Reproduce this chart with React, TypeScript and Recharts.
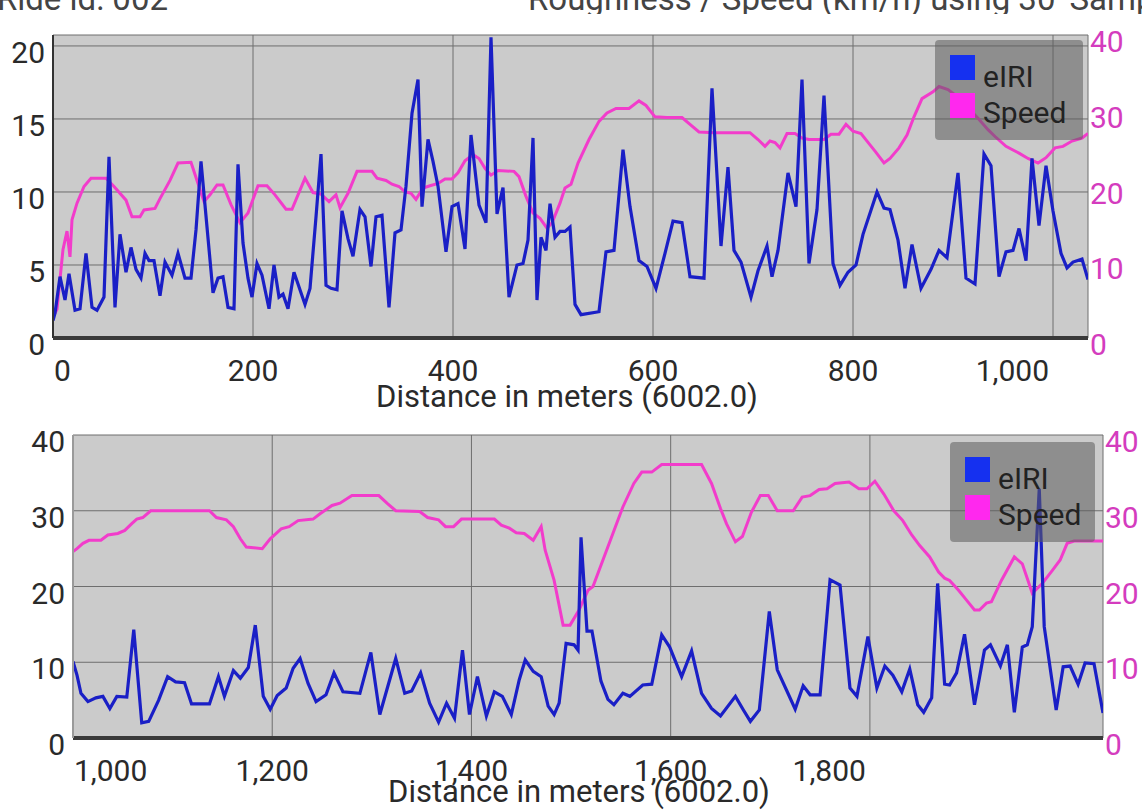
import React from "react";
import { LineChart, Line, XAxis, YAxis, CartesianGrid } from "recharts";

// top panel: 0 - 1035 m
const topIriDist = [
  0, 2, 7, 12, 16, 22, 27, 33, 39, 44,
  51, 56, 62, 67, 73, 78, 83, 88, 92, 96,
  101, 107, 112, 119, 125, 132, 138, 143, 148, 160,
  165, 170, 175, 181, 185, 190, 195, 199, 204, 209,
  216, 221, 226, 230, 235, 241, 248, 252, 257, 263,
  268, 273, 278, 284, 289, 295, 300, 307, 312, 318,
  323, 329, 336, 342, 348, 353, 359, 365, 369, 375,
  380, 385, 393, 399, 405, 412, 418, 426, 433, 438,
  444, 450, 456, 464, 470, 475, 480, 484, 488, 493,
  497, 502, 507, 512, 517, 522, 528, 546, 553, 561,
  570, 577, 586, 594, 603, 612, 620, 629, 637, 651,
  659, 668, 675, 681, 688, 698, 705, 714, 719, 725,
  735, 743, 749, 756, 764, 771, 780, 787, 795, 803,
  810, 824, 831, 837, 845, 852, 859, 868, 878, 886,
  894, 905, 913, 922, 931, 938, 946, 953, 960, 966,
  973, 979, 986, 993, 1000, 1008, 1014, 1020, 1029, 1035,
];
const topIri = [
  1.2, 1.7, 4.2, 2.6, 4.4, 1.9, 2.0, 5.8, 2.1, 1.9,
  2.8, 12.4, 2.1, 7.1, 4.5, 6.2, 4.7, 4.1, 5.8, 5.3,
  5.3, 2.9, 5.2, 4.3, 5.8, 4.1, 4.1, 7.4, 12.1, 3.1,
  4.1, 4.2, 2.1, 2.0, 11.9, 6.5, 4.1, 2.8, 5.1, 4.3,
  2.0, 5.0, 2.8, 3.0, 2.0, 4.5, 3.1, 2.3, 3.4, 8.3,
  12.6, 3.6, 3.4, 3.3, 8.7, 6.8, 5.6, 8.8, 8.3, 4.9,
  8.3, 8.4, 2.1, 7.2, 7.4, 10.4, 15.4, 17.7, 9.0, 13.6,
  12.1, 10.4, 5.9, 9.0, 9.2, 6.1, 13.9, 9.1, 7.9, 20.6,
  8.5, 10.3, 2.8, 5.0, 5.1, 6.7, 13.7, 2.6, 6.9, 6.0,
  9.2, 6.9, 7.3, 7.3, 7.6, 2.3, 1.6, 1.8, 5.9, 6.0,
  12.9, 9.0, 5.3, 4.9, 3.4, 5.8, 8.0, 7.9, 4.2, 4.1,
  17.1, 6.3, 11.7, 6.0, 5.2, 2.8, 4.6, 6.3, 4.2, 6.0,
  11.3, 9.0, 17.7, 5.1, 8.8, 16.6, 5.1, 3.6, 4.5, 5.0,
  7.1, 10.0, 8.9, 8.8, 6.7, 3.4, 6.4, 3.4, 4.7, 6.0,
  5.5, 11.3, 4.1, 3.7, 12.6, 11.8, 4.2, 5.9, 6.0, 7.5,
  5.3, 12.3, 7.7, 11.8, 8.7, 5.8, 4.8, 5.2, 5.4, 4.0,
];
const topSpeedDist = [
  0, 4, 10, 14, 17, 19, 24, 31, 38, 53,
  61, 73, 79, 87, 91, 102, 107, 117, 125, 138,
  144, 151, 157, 164, 170, 178, 187, 195, 205, 214,
  222, 233, 239, 245, 252, 260, 268, 276, 283, 287,
  295, 304, 319, 324, 333, 339, 346, 352, 358, 363,
  370, 377, 385, 392, 399, 405, 412, 420, 426, 432,
  438, 445, 461, 466, 473, 480, 487, 494, 499, 507,
  512, 518, 525, 536, 546, 554, 563, 576, 586, 593,
  602, 614, 629, 637, 646, 661, 697, 705, 712, 717,
  722, 727, 734, 742, 749, 756, 771, 778, 786, 793,
  800, 808, 817, 823, 831, 837, 846, 854, 861, 869,
  880, 886, 895, 905, 915, 925, 935, 942, 953, 966,
  975, 985, 993, 1002, 1010, 1019, 1029, 1035,
];
const topSpeed = [
  2.8, 3.8, 11.7, 14.1, 10.7, 15.6, 17.8, 20.0, 21.1, 21.1,
  20.0, 18.2, 16.0, 16.0, 16.9, 17.1, 18.4, 20.8, 23.1, 23.2,
  20.8, 18.0, 18.9, 20.2, 20.2, 17.6, 15.2, 16.5, 20.1, 20.1,
  18.9, 17.0, 17.0, 18.9, 21.1, 19.2, 19.0, 18.0, 18.9, 17.2,
  19.1, 22.0, 22.0, 21.1, 20.8, 20.3, 20.0, 19.3, 19.1, 18.3,
  19.8, 20.1, 20.4, 21.0, 21.0, 21.8, 23.4, 24.2, 23.7, 22.4,
  21.5, 22.1, 22.0, 21.3, 18.7, 16.5, 15.8, 14.5, 15.2, 17.8,
  19.8, 20.3, 23.1, 26.2, 28.6, 29.7, 30.3, 30.3, 31.3, 30.7,
  29.2, 29.1, 29.1, 28.2, 27.2, 27.1, 27.1, 26.2, 25.3, 26.0,
  25.8, 25.1, 27.0, 27.0, 26.4, 26.2, 26.2, 26.9, 26.9, 28.2,
  27.3, 27.0, 25.5, 24.5, 23.1, 23.7, 25.1, 26.8, 29.2, 31.6,
  32.5, 33.2, 32.8, 31.8, 30.4, 29.0, 27.5, 26.6, 25.3, 24.4,
  23.7, 23.1, 23.8, 25.1, 25.3, 26.0, 26.4, 27.0,
];

// bottom panel: 1000 - 2034 m
const bottomIriDist = [
  1000, 1004, 1008, 1015, 1023, 1030, 1037, 1044, 1054, 1061,
  1069, 1076, 1086, 1095, 1103, 1112, 1119, 1137, 1146, 1152,
  1161, 1168, 1176, 1183, 1191, 1198, 1205, 1214, 1221, 1228,
  1236, 1244, 1254, 1262, 1271, 1288, 1299, 1308, 1324, 1333,
  1340, 1349, 1358, 1367, 1375, 1383, 1391, 1398, 1406, 1415,
  1423, 1431, 1440, 1448, 1454, 1462, 1470, 1477, 1483, 1488,
  1495, 1503, 1507, 1510, 1516, 1521, 1530, 1537, 1543, 1552,
  1559, 1572, 1581, 1591, 1599, 1611, 1621, 1631, 1641, 1650,
  1665, 1673, 1680, 1689, 1699, 1707, 1716, 1725, 1733, 1740,
  1750, 1760, 1770, 1780, 1787, 1798, 1807, 1815, 1823, 1832,
  1840, 1848, 1854, 1862, 1868, 1875, 1880, 1887, 1895, 1905,
  1915, 1921, 1931, 1938, 1945, 1953, 1958, 1963, 1970, 1975,
  1987, 1994, 2001, 2009, 2016, 2025, 2034,
];
const bottomIri = [
  10.1, 8.3, 5.9, 4.8, 5.3, 5.5, 3.9, 5.5, 5.4, 14.3,
  2.0, 2.2, 5.0, 8.1, 7.4, 7.3, 4.5, 4.5, 8.1, 5.5,
  8.9, 7.9, 9.3, 14.9, 5.5, 3.8, 5.6, 6.6, 9.2, 10.5,
  7.2, 4.8, 5.7, 8.6, 6.1, 5.9, 11.3, 3.1, 10.5, 5.9,
  6.2, 8.6, 4.6, 2.1, 4.6, 2.6, 11.6, 3.1, 8.1, 2.9,
  6.1, 5.5, 3.1, 7.7, 10.3, 8.8, 8.1, 4.2, 3.1, 4.6,
  12.5, 12.3, 11.6, 26.5, 14.1, 14.1, 7.5, 5.1, 4.4, 5.9,
  5.5, 7.0, 7.1, 13.6, 12.0, 8.1, 11.5, 5.9, 3.9, 2.9,
  5.5, 3.7, 2.2, 3.7, 16.7, 9.0, 6.4, 3.8, 6.9, 5.7,
  5.7, 20.9, 20.2, 6.6, 5.5, 13.4, 6.6, 9.5, 8.3, 6.1,
  9.1, 4.4, 3.4, 5.3, 20.4, 7.1, 7.0, 8.6, 13.7, 4.4,
  11.6, 12.3, 9.5, 12.3, 3.4, 12.0, 12.3, 14.7, 32.9, 14.7,
  3.7, 9.4, 9.5, 7.1, 9.9, 9.8, 3.3,
];
const bottomSpeedDist = [
  1000, 1004, 1010, 1016, 1028, 1035, 1045, 1052, 1059, 1064,
  1070, 1078, 1137, 1144, 1154, 1161, 1168, 1174, 1190, 1198,
  1209, 1217, 1226, 1241, 1248, 1260, 1268, 1280, 1307, 1316,
  1324, 1348, 1356, 1367, 1374, 1382, 1390, 1423, 1430, 1438,
  1445, 1453, 1462, 1470, 1474, 1483, 1492, 1499, 1508, 1517,
  1522, 1532, 1542, 1552, 1563, 1571, 1581, 1591, 1631, 1641,
  1650, 1656, 1665, 1672, 1681, 1690, 1698, 1707, 1723, 1732,
  1740, 1749, 1757, 1765, 1779, 1789, 1797, 1805, 1814, 1824,
  1833, 1842, 1850, 1860, 1869, 1875, 1880, 1889, 1897, 1905,
  1910, 1917, 1922, 1932, 1945, 1953, 1963, 1973, 1983, 1991,
  1998, 2005, 2034,
];
const bottomSpeed = [
  24.6, 25.0, 25.7, 26.1, 26.1, 26.8, 27.0, 27.4, 28.3, 28.9,
  29.1, 30.0, 30.0, 29.1, 28.8, 27.9, 26.3, 25.2, 25.0, 26.3,
  27.6, 27.9, 28.7, 28.9, 29.6, 30.7, 31.0, 32.0, 32.0, 30.9,
  30.0, 29.9, 29.1, 28.8, 27.9, 27.9, 28.9, 28.9, 28.1, 27.7,
  27.1, 27.0, 26.1, 27.9, 24.8, 20.8, 14.9, 14.9, 16.9, 19.5,
  20.0, 23.5, 27.0, 30.5, 33.6, 35.1, 35.1, 36.1, 36.1, 33.6,
  30.3, 28.3, 25.9, 26.6, 29.8, 32.0, 32.0, 30.0, 30.0, 31.8,
  32.0, 32.8, 32.9, 33.6, 33.8, 32.9, 32.9, 33.9, 32.2, 30.0,
  28.7, 26.8, 25.4, 23.9, 21.9, 21.1, 20.8, 19.5, 18.2, 16.9,
  16.9, 17.8, 18.0, 20.8, 23.9, 23.0, 19.1, 20.4, 22.1, 23.5,
  25.7, 26.0, 26.0,
];

const topXTicks = [0, 200, 400, 600, 800, 1000];
const topIriTicks = [0, 5, 10, 15, 20];
const bottomXTicks = [1000, 1200, 1400, 1600, 1800];
const bottomIriTicks = [0, 10, 20, 30, 40];
const speedTicks = [0, 10, 20, 30, 40];
const legendItems = [
  { label: "eIRI", color: "#1530f0" },
  { label: "Speed", color: "#ff28ee" },
];
const axisTitle = "Distance in meters (6002.0)";

const FONT = "Roboto, 'Noto Sans', sans-serif";
const IRI_COLOR = "#1a1fc6";
const SPEED_COLOR = "#f23ccb";
const TEXT_COLOR = "#2a2a2a";
const RIGHT_TEXT = "#d43cbe";

const toPoints = (xs: number[], ys: number[]) => xs.map((x, i) => ({ x, y: ys[i] }));

const makeXTick = (ticks: number[]) => (props: any) => {
  const { x, y, payload } = props;
  const v = payload.value;
  const anchor = v === ticks[0] ? "start" : v === ticks[ticks.length - 1] ? "end" : "middle";
  const dx = anchor === "end" ? -4 : anchor === "start" ? 1 : 0;
  return (
    <text x={x + dx} y={y + 35} textAnchor={anchor} fill={TEXT_COLOR} fontSize={30} fontFamily={FONT}>
      {Number(v).toLocaleString("en-US")}
    </text>
  );
};

const LeftTick = (props: any) => {
  const { x, y, payload } = props;
  return (
    <text x={x} y={y + 17} textAnchor="end" fill={TEXT_COLOR} fontSize={30} fontFamily={FONT}>
      {payload.value}
    </text>
  );
};

const RightTick = (props: any) => {
  const { x, y, payload } = props;
  return (
    <text x={x - 6} y={y + 17} textAnchor="start" fill={RIGHT_TEXT} fontSize={30} fontFamily={FONT}>
      {payload.value}
    </text>
  );
};

const LegendBox = ({ left, top, width }: { left: number; top: number; width: number }) => (
  <svg width={width} height={100} style={{ position: "absolute", left, top }}>
    <rect x={0} y={0} width={width} height={100} rx={4} fill="rgba(92,92,92,0.55)" />
    {legendItems.map((item, i) => (
      <g key={item.label}>
        <rect x={15} y={15 + i * 38} width={25} height={25} fill={item.color} />
        <text x={48} y={47 + i * 36} fill="#222" fontSize={30} fontFamily={FONT}>
          {item.label}
        </text>
      </g>
    ))}
  </svg>
);

interface PanelProps {
  top: number;
  height: number;
  marginTop: number;
  leftWidth: number;
  rightWidth: number;
  axisHeight: number;
  xDomain: [number, number];
  xTicks: number[];
  iriDomain: [number, number];
  iriTicks: number[];
  iri: { x: number; y: number }[];
  speed: { x: number; y: number }[];
  leftLine: string;
  titleX: number;
  titleY: number;
  legendLeft: number;
  legendTop: number;
  legendWidth: number;
}

const Panel = (p: PanelProps) => (
  <div style={{ position: "absolute", left: 0, top: p.top, width: 1142, height: p.height }}>
    <LineChart width={1142} height={p.height} margin={{ top: p.marginTop, right: 0, bottom: 0, left: 0 }}>
      <CartesianGrid fill="#cbcbcb" fillOpacity={1} stroke="#6e6e6e" strokeWidth={1} />
      <XAxis
        dataKey="x"
        type="number"
        domain={p.xDomain}
        ticks={p.xTicks}
        allowDataOverflow
        height={p.axisHeight}
        tickLine={false}
        axisLine={{ stroke: "#3a3a3a", strokeWidth: 4 }}
        tick={makeXTick(p.xTicks)}
        interval={0}
      />
      <YAxis
        type="number"
        domain={p.iriDomain}
        ticks={p.iriTicks}
        allowDataOverflow
        width={p.leftWidth}
        tickLine={false}
        axisLine={{ stroke: p.leftLine, strokeWidth: 2 }}
        tick={<LeftTick />}
        interval={0}
      />
      <YAxis
        yAxisId="speed"
        orientation="right"
        type="number"
        domain={[0, 40]}
        ticks={speedTicks}
        allowDataOverflow
        width={p.rightWidth}
        tickLine={false}
        axisLine={false}
        tick={<RightTick />}
        interval={0}
      />
      <Line
        data={p.speed}
        dataKey="y"
        name="Speed"
        yAxisId="speed"
        type="linear"
        stroke={SPEED_COLOR}
        strokeWidth={3}
        dot={false}
        isAnimationActive={false}
      />
      <Line
        data={p.iri}
        dataKey="y"
        name="eIRI"
        type="linear"
        stroke={IRI_COLOR}
        strokeWidth={3.2}
        dot={false}
        isAnimationActive={false}
      />
      <text x={p.titleX} y={p.titleY} textAnchor="middle" fill={TEXT_COLOR} fontSize={31} fontFamily={FONT}>
        {axisTitle}
      </text>
    </LineChart>
    <LegendBox left={p.legendLeft} top={p.legendTop - p.top} width={p.legendWidth} />
  </div>
);

export default function App() {
  return (
    <div
      style={{
        position: "fixed",
        left: 0,
        top: 0,
        width: 1142,
        height: 812,
        background: "#ffffff",
        overflow: "hidden",
        fontFamily: FONT,
      }}
    >
      <svg width={1142} height={14} style={{ position: "absolute", left: 0, top: 0 }}>
        <text x={168} y={10} textAnchor="end" fill="#444" fontSize={33} fontFamily={FONT}>
          Ride id: 002
        </text>
        <text x={528} y={10} fill="#444" fontSize={33} fontFamily={FONT}>
          Roughness / Speed (km/h) using 30' Sampling
        </text>
      </svg>
      <Panel
        top={0}
        height={420}
        marginTop={35}
        leftWidth={53}
        rightWidth={54}
        axisHeight={82}
        xDomain={[0, 1035]}
        xTicks={topXTicks}
        iriDomain={[0, 20.75]}
        iriTicks={topIriTicks}
        iri={toPoints(topIriDist, topIri)}
        speed={toPoints(topSpeedDist, topSpeed)}
        leftLine="#333333"
        titleX={567}
        titleY={407}
        legendLeft={935}
        legendTop={40}
        legendWidth={148}
      />
      <Panel
        top={420}
        height={392}
        marginTop={15}
        leftWidth={73}
        rightWidth={39}
        axisHeight={74}
        xDomain={[1000, 2034]}
        xTicks={bottomXTicks}
        iriDomain={[0, 40]}
        iriTicks={bottomIriTicks}
        iri={toPoints(bottomIriDist, bottomIri)}
        speed={toPoints(bottomSpeedDist, bottomSpeed)}
        leftLine="#9a9a9a"
        titleX={579}
        titleY={382}
        legendLeft={950}
        legendTop={442}
        legendWidth={145}
      />
    </div>
  );
}
